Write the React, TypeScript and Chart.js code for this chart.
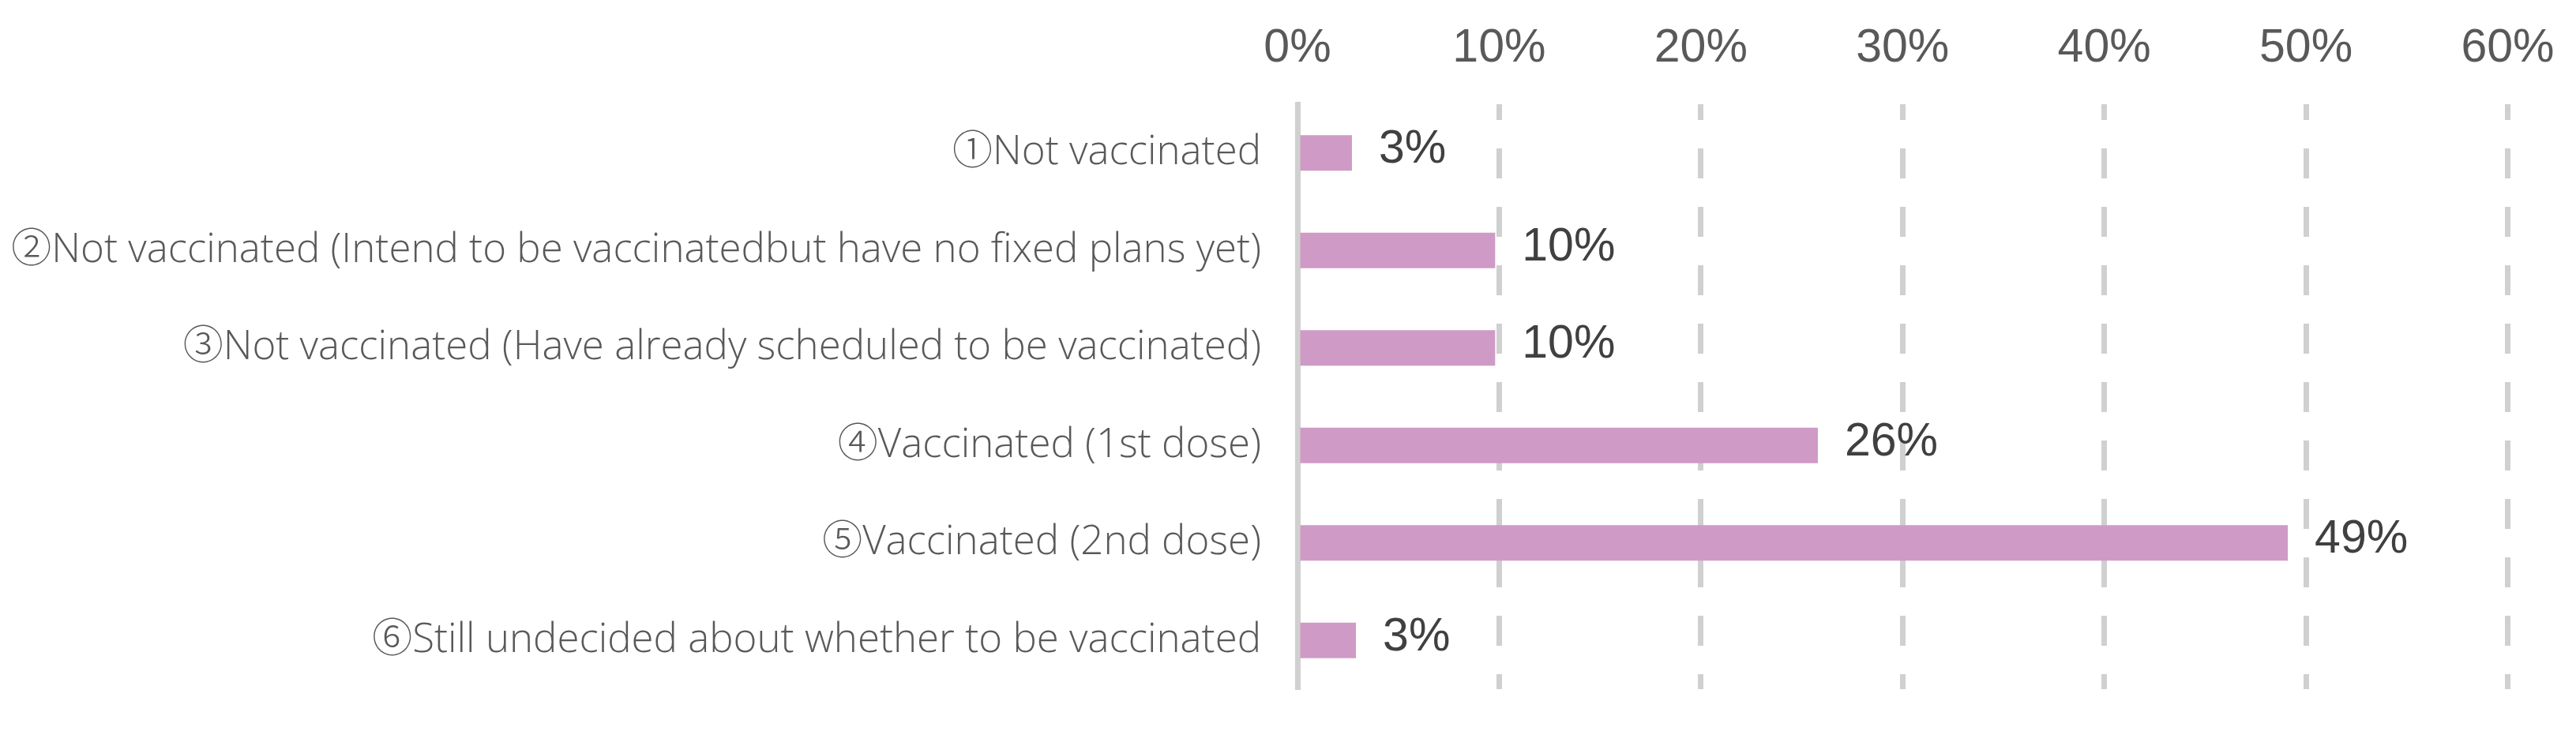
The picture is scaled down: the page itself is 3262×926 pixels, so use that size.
import React, { useEffect, useRef } from "react";
import { Chart, registerables } from "chart.js";

Chart.register(...registerables);

const categories = [
  "①Not vaccinated",
  "②Not vaccinated (Intend to be vaccinatedbut have no fixed plans yet)",
  "③Not vaccinated (Have already scheduled to be vaccinated)",
  "④Vaccinated (1st dose)",
  "⑤Vaccinated (2nd dose)",
  "⑥Still undecided about whether to be vaccinated",
];
const values = [2.7, 9.8, 9.8, 25.8, 49.1, 2.9];
const valueLabels = ["3%", "10%", "10%", "26%", "49%", "3%"];
const tickLabels = ["0%", "10%", "20%", "30%", "40%", "50%", "60%"];

const valueLabelPlugin = {
  id: "valueLabelPlugin",
  afterDatasetsDraw(chart: any) {
    const ctx = chart.ctx;
    const meta = chart.getDatasetMeta(0);
    ctx.save();
    ctx.font = '59px "Liberation Sans", Arial, sans-serif';
    ctx.fillStyle = "#404040";
    ctx.textAlign = "left";
    ctx.textBaseline = "middle";
    meta.data.forEach((bar: any, i: number) => {
      ctx.fillText(valueLabels[i], bar.x + 34, bar.y - 4);
    });
    ctx.restore();
  },
};

export default function App() {
  const ref = useRef<HTMLCanvasElement | null>(null);

  useEffect(() => {
    if (!ref.current) return;
    const chart = new Chart(ref.current, {
      type: "bar",
      data: {
        labels: categories,
        datasets: [
          {
            data: values,
            backgroundColor: "#CF9BC6",
            borderWidth: 0,
            barPercentage: 0.365,
            categoryPercentage: 1,
          },
        ],
      },
      options: {
        indexAxis: "y",
        responsive: false,
        animation: false,
        devicePixelRatio: 1,
        layout: { padding: { left: 0, top: 0, right: 86.5, bottom: 53 } },
        plugins: {
          legend: { display: false },
          tooltip: { enabled: false },
        },
        scales: {
          x: {
            position: "top",
            min: 0,
            max: 60,
            ticks: {
              stepSize: 10,
              padding: 35,
              color: "#595959",
              font: { family: '"Liberation Sans", Arial, sans-serif', size: 59 },
              callback: (_v: any, i: number) => tickLabels[i],
            },
            grid: {
              color: "#D0D0D0",
              lineWidth: 7,
              drawTicks: false,
            },
            border: { display: false, dash: [38, 36], dashOffset: 18 },
            afterFit: (s: any) => {
              s.height = 132;
              s.paddingLeft = 0;
              s.paddingRight = 0;
            },
          },
          y: {
            ticks: {
              padding: 46,
              color: "#595959",
              font: { family: '"Open Sans", "Noto Sans CJK JP", sans-serif', size: 51, weight: "300" },
            },
            grid: { display: false, drawTicks: false },
            border: { display: true, color: "#D0D0D0", width: 7 },
            afterFit: (s: any) => {
              s.width = 1643;
              s.paddingTop = 0;
              s.paddingBottom = 0;
            },
          },
        },
      },
      plugins: [valueLabelPlugin],
    } as any);
    return () => chart.destroy();
  }, []);

  return (
    <div style={{ position: "fixed", left: 0, top: 0, width: 3262, height: 926, background: "#fff" }}>
      <canvas ref={ref} width={3262} height={926} style={{ width: 3262, height: 926, display: "block" }} />
    </div>
  );
}
